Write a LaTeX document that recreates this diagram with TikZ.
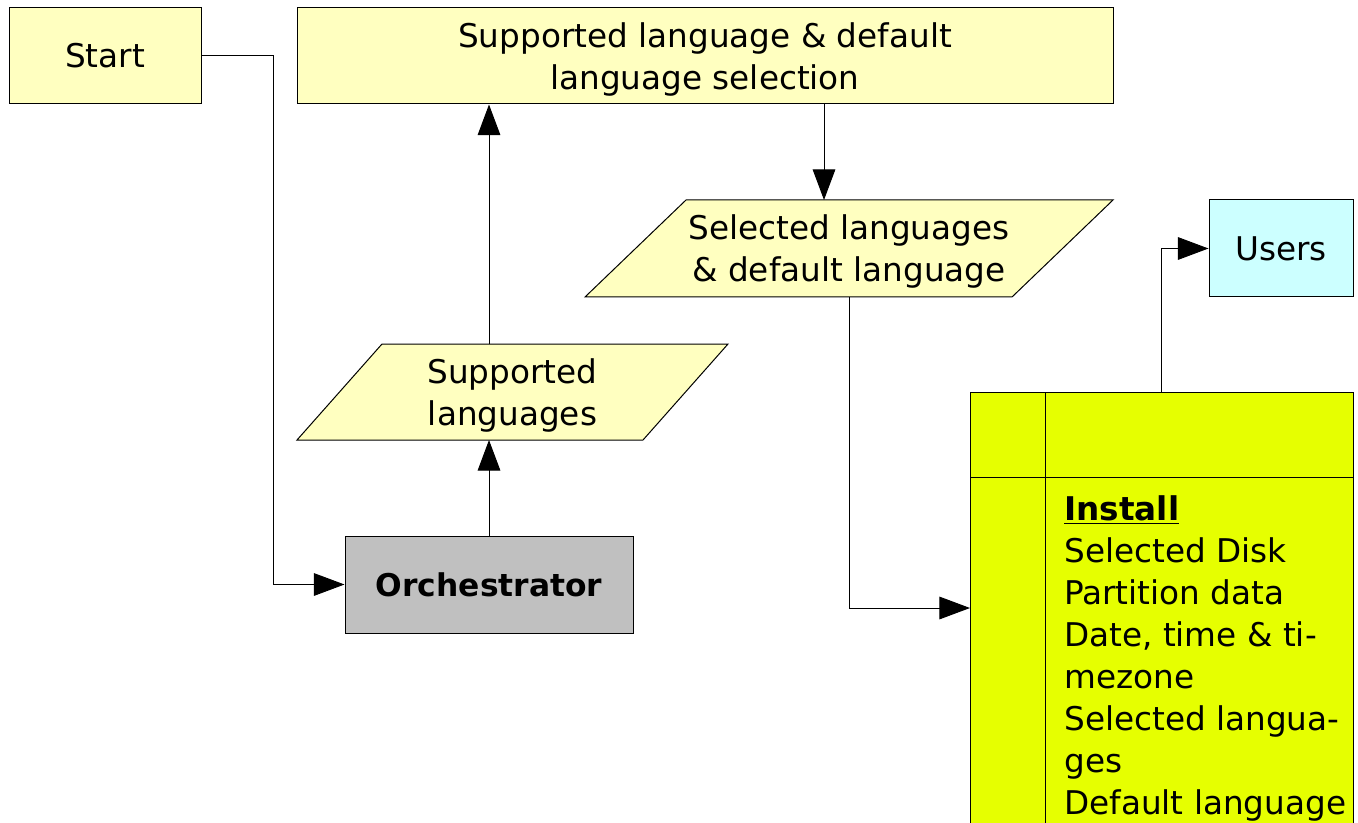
\documentclass[tikz,border=0pt]{standalone}
\usepackage{fontspec}
\setmainfont{DejaVu Sans}
\usetikzlibrary{arrows.meta}
\definecolor{paleyellow}{HTML}{FFFFC0}
\definecolor{midgray}{HTML}{C0C0C0}
\definecolor{palecyan}{HTML}{CCFFFF}
\definecolor{limefill}{HTML}{E6FF00}
\begin{document}
\begin{tikzpicture}[x=0.75pt,y=-0.75pt,
  every node/.style={font=\fontsize{24.5}{31.5}\selectfont},
  box/.style={draw=black, line width=0.75pt, fill=paleyellow, inner sep=0pt, align=center},
  para/.style={draw=black, line width=0.75pt, fill=paleyellow},
  label/.style={inner sep=0pt, align=center},
  flow/.style={line width=0.75pt, -{Triangle[length=23pt,width=17pt]}},
  wire/.style={line width=0.75pt}]
\useasboundingbox (0,0) rectangle (1358,823);
\clip (0,0) rectangle (1358,823);

% process boxes
\node[box, minimum width=144pt, minimum height=72pt] (start) at (105,56) {Start};
\node[box, minimum width=612pt, minimum height=72pt] (top) at (705,56) {};
\node[label] (toptext) at (705,59) {Supported language \& default\\language selection};
\node[box, fill=midgray, minimum width=216pt, minimum height=72.75pt,
  font=\fontsize{23.5}{31.5}\selectfont\bfseries] (orch) at (489,584.5) {Orchestrator};
\node[box, fill=palecyan, minimum width=108pt, minimum height=72.75pt] (users) at (1281,248.5) {Users};

% data parallelograms
\draw[para] (686,200) -- (1113,200) -- (1012,297) -- (585,297) -- cycle;
\node[label, minimum height=72.75pt] (sel) at (849,248.5) {};
\node[label] (seltext) at (849,251.5) {Selected languages\\\& default language};
\draw[para] (382,344) -- (728,344) -- (643,440) -- (297,440) -- cycle;
\node[label] (sup) at (512.5,395.5) {Supported\\languages};

% install table
\draw[wire, fill=limefill] (970,392) rectangle (1353,860);
\draw[wire] (1045,392) -- (1045,860);
\draw[wire] (970,477) -- (1353,477);
\node[anchor=north west, inner sep=0pt, align=left] (install) at (1064,491)
  {\strut\underline{\textbf{Install}}\\Selected Disk\\Partition data\\Date, time \& ti-\\mezone\\Selected langua-\\ges\\Default language};

% connection points
\coordinate (selIn) at (824,200);
\coordinate (supTop) at (489,344);
\coordinate (supBot) at (489,440);
\coordinate (instIn) at (970,608);
\coordinate (instTop) at (1161,392);

% connectors
\draw[flow] (start.east) -- ++(72,0) |- (orch.west);
\draw[flow] (orch.north) -- (supBot);
\draw[flow] (supTop) -- (top.south -| supTop);
\draw[flow] (top.south -| selIn) -- (selIn);
\draw[flow] (sel.south) |- (instIn);
\draw[flow] (instTop) |- (users.west);
\end{tikzpicture}
\end{document}
